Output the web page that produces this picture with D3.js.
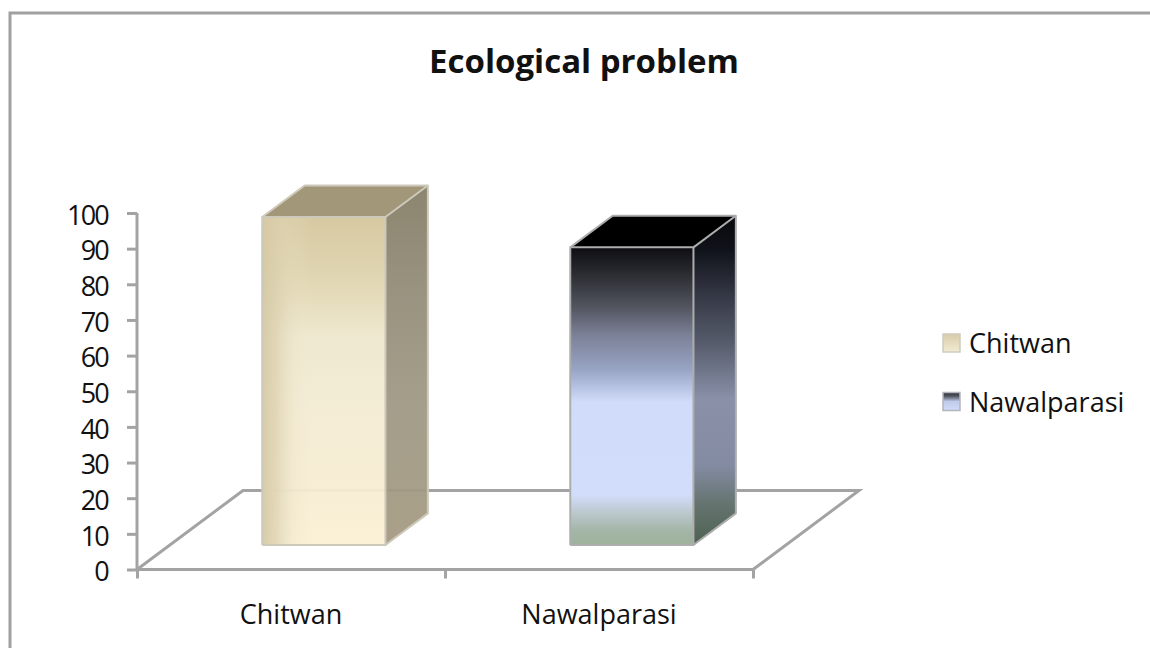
<!DOCTYPE html>
<html>
<head>
<meta charset="utf-8">
<script src="https://cdn.jsdelivr.net/npm/d3@7/dist/d3.min.js"></script>
<style>
html,body{margin:0;padding:0;background:#fff;}
svg{display:block;}
text{font-family:"Open Sans",sans-serif;fill:#111;}
</style>
</head>
<body>
<svg id="chart" width="1150" height="648"></svg>
<script>
// Chart content
const chartTitle = "Ecological problem";
const categories = ["Chitwan", "Nawalparasi"];
const values = [92, 83.5];
const yTicks = [0, 10, 20, 30, 40, 50, 60, 70, 80, 90, 100];

const svg = d3.select("#chart");
const defs = svg.append("defs");

// Scales: category along the front edge, value upward, depth into the floor
const x = d3.scaleBand().domain(categories).range([137, 753]).paddingInner(0.6).paddingOuter(0.3);
const y = d3.scaleLinear().domain([0, 100]).range([569.5, 213]);
const depthX = d3.scaleLinear().domain([0, 1]).range([0, 106]);
const depthY = d3.scaleLinear().domain([0, 1]).range([0, -79]);
const frontDepth = 0.31, backDepth = 0.71;

// Projects a point (px along x, value, depth) onto the page
const project = (px, v, d) => [px + depthX(d), y(v) + depthY(d)];
const poly = pts => pts.map(p => p.join(",")).join(" ");

function gradient(id, stops, horizontal) {
  const g = defs.append("linearGradient").attr("id", id)
    .attr("x1", 0).attr("y1", 0)
    .attr("x2", horizontal ? 1 : 0).attr("y2", horizontal ? 0 : 1);
  stops.forEach(s => g.append("stop").attr("offset", s[0]).attr("stop-color", s[1]).attr("stop-opacity", s[2] === undefined ? 1 : s[2]));
}

gradient("front0", [[0, "#d4c69c"], [0.16, "#ddd1ab"], [0.26, "#e4dbb9"], [0.365, "#eee7cd"], [0.565, "#f3ebd2"], [0.8, "#f6ecd2"], [1, "#faf0d4"]]);
gradient("shade0", [[0, "#d5c9a5", 0.95], [0.12, "#dbcfae", 0.7], [0.25, "#e6dcbf", 0.25], [0.4, "#efe8d0", 0], [1, "#f3ecd4", 0]], true);
gradient("side0", [[0, "#857d66"], [0.3, "#938c78"], [0.6, "#9e9883"], [1, "#a59a82"]]);
gradient("front1", [[0, "#0e0e12"], [0.1, "#2e3036"], [0.2, "#52545f"], [0.29, "#7a7f94"], [0.41, "#98a4c4"], [0.52, "#d0dcfa"], [0.83, "#d2ddfb"], [0.89, "#bcc9cf"], [0.95, "#a4b6a8"], [1, "#9db29b"]]);
gradient("side1", [[0, "#08090c"], [0.1, "#10121a"], [0.28, "#3e4250"], [0.38, "#555a6a"], [0.465, "#6e7488"], [0.556, "#8a90a8"], [0.76, "#838ba2"], [0.88, "#64736e"], [1, "#4e6252"]]);
gradient("swatch0", [[0, "#d8ccaa"], [1, "#f3ebd3"]]);
gradient("swatch1", [[0, "#30323a"], [0.2, "#50535f"], [0.5, "#c0cbea"], [1, "#d0dcfa"]]);

const fronts = ["url(#front0)", "url(#front1)"];
const sides = ["url(#side0)", "url(#side1)"];
const tops = ["#a3977a", "#000000"];
const edges = ["#cdc9ba", "#adadad"];
const swatches = ["url(#swatch0)", "url(#swatch1)"];
const swatchEdges = ["#cfcbbc", "#b4b4bc"];
const lineGrey = "#a3a3a3";
const labelSize = 27;

// Outer frame, open at the right and bottom edges
svg.append("path").attr("d", d3.line()([[10, 648], [10, 13], [1150, 13]]))
  .attr("fill", "none").attr("stroke", "#a0a0a0").attr("stroke-width", 3);

// Floor outline
const [x0, x1] = x.range();
const floor = [project(x0, 0, 0), project(x0, 0, 1), project(x1, 0, 1), project(x1, 0, 0)];
svg.append("polyline").attr("points", poly(floor))
  .attr("fill", "none").attr("stroke", lineGrey).attr("stroke-width", 3);

// Bars: right side, top, front
const bars = svg.selectAll("g.bar").data(categories).join("g").attr("class", "bar");
bars.each(function (c, i) {
  const g = d3.select(this);
  const l = x(c), r = x(c) + x.bandwidth(), v = values[i];
  const o = i === 0 ? 0.94 : 1;
  g.append("polygon")
    .attr("points", poly([project(r, 0, frontDepth), project(r, 0, backDepth), project(r, v, backDepth), project(r, v, frontDepth)]))
    .attr("fill", sides[i]).attr("fill-opacity", o);
  g.append("polygon")
    .attr("points", poly([project(l, v, frontDepth), project(l, v, backDepth), project(r, v, backDepth), project(r, v, frontDepth)]))
    .attr("fill", tops[i]);
  const fp = poly([project(l, 0, frontDepth), project(l, v, frontDepth), project(r, v, frontDepth), project(r, 0, frontDepth)]);
  g.append("polygon").attr("points", fp).attr("fill", fronts[i]).attr("fill-opacity", o);
  if (i === 0) g.append("polygon").attr("points", fp).attr("fill", "url(#shade0)");
  // Light edges along the visible box outline
  const outline = [
    [project(l, 0, frontDepth), project(l, v, frontDepth), project(r, v, frontDepth), project(r, 0, frontDepth), project(l, 0, frontDepth)],
    [project(l, v, frontDepth), project(l, v, backDepth), project(r, v, backDepth), project(r, 0, backDepth), project(r, 0, frontDepth)],
    [project(r, v, frontDepth), project(r, v, backDepth)]
  ];
  outline.forEach(pts => g.append("polyline").attr("points", poly(pts))
    .attr("fill", "none").attr("stroke", edges[i]).attr("stroke-width", 2).attr("stroke-linejoin", "round"));
});

// Value axis
const yAxis = svg.append("g").attr("transform", `translate(${x0},0)`)
  .call(d3.axisLeft(y).tickValues(yTicks).tickSize(10).tickPadding(19));
yAxis.selectAll("path,line").attr("stroke", lineGrey).attr("stroke-width", 3);
yAxis.select(".domain").attr("d", `M0,${y(100)}V${y(0)}`);
yAxis.selectAll("text").attr("font-size", 27).attr("letter-spacing", -1.8)
  .attr("font-family", "'Open Sans',sans-serif").attr("fill", "#111").attr("dy", "0.42em");

// Category axis: boundary ticks between categories, labels centred on each band
const boundaries = d3.scaleLinear().domain([0, categories.length]).range(x.range());
const tickAxis = svg.append("g").attr("transform", `translate(0,${y(0)})`)
  .call(d3.axisBottom(boundaries).tickValues(d3.range(categories.length + 1)).tickSize(9).tickFormat(""));
tickAxis.selectAll("line").attr("stroke", lineGrey).attr("stroke-width", 3);
tickAxis.select(".domain").attr("d", `M${x0},0H${x1}`).attr("stroke", lineGrey).attr("stroke-width", 3);

const labelAxis = svg.append("g").attr("transform", `translate(0,${y(0)})`)
  .call(d3.axisBottom(x).tickSize(0).tickPadding(35));
labelAxis.select(".domain").remove();
labelAxis.selectAll("text").attr("font-size", labelSize).attr("font-family", "'Open Sans',sans-serif").attr("fill", "#111");

// Title
svg.append("text").attr("x", 584).attr("y", 73).attr("text-anchor", "middle")
  .attr("font-size", 33).attr("font-weight", 700).text(chartTitle);

// Legend
const legend = svg.selectAll("g.legend").data(categories).join("g").attr("class", "legend")
  .attr("transform", (d, i) => `translate(943,${334 + i * 58.5})`);
legend.append("rect").attr("width", 17).attr("height", 18)
  .attr("fill", (d, i) => swatches[i]).attr("stroke", (d, i) => swatchEdges[i]).attr("stroke-width", 1.5);
legend.append("text").attr("x", 26).attr("y", 19).attr("font-size", labelSize).text(d => d);
</script>
</body>
</html>
